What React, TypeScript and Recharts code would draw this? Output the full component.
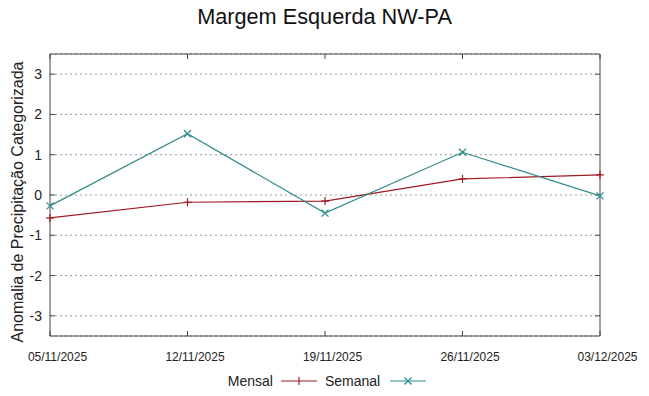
import { LineChart, Line, XAxis, YAxis, CartesianGrid, Legend, ReferenceLine } from "recharts"

const dates = ["05/11/2025", "12/11/2025", "19/11/2025", "26/11/2025", "03/12/2025"]
const mensal = [-0.57, -0.18, -0.15, 0.4, 0.5]
const semanal = [-0.27, 1.52, -0.45, 1.06, -0.02]
const yTicks = [-3, -2, -1, 0, 1, 2, 3]

const RED = "#a01a22"
const TEAL = "#2e8b8b"
const FONT = "'Liberation Sans', Arial, sans-serif"
const AXIS = "#444"

const Y_MIN = -3.5
const Y_MAX = 3.5
const X_MAX = dates.length - 1
// inward tick length in data units (about 5px each way)
const TICK_X = 0.036
const TICK_Y = 0.124

const data = dates.map((d, i) => ({ idx: i, date: d, mensal: mensal[i], semanal: semanal[i] }))

// gnuplot style point markers
const PlusDot = (props: any) => {
    const { cx, cy } = props
    if (cx == null || cy == null) return null
    return (
        <g stroke={RED} strokeWidth={1.2}>
            <line x1={cx - 4} y1={cy} x2={cx + 4} y2={cy} />
            <line x1={cx} y1={cy - 4} x2={cx} y2={cy + 4} />
        </g>
    )
}

const CrossDot = (props: any) => {
    const { cx, cy } = props
    if (cx == null || cy == null) return null
    return (
        <g stroke={TEAL} strokeWidth={1.2}>
            <line x1={cx - 3.5} y1={cy - 3.5} x2={cx + 3.5} y2={cy + 3.5} />
            <line x1={cx - 3.5} y1={cy + 3.5} x2={cx + 3.5} y2={cy - 3.5} />
        </g>
    )
}

const XTick = ({ x, payload }: any) => (
    <text x={x + 7.5} y={361} textAnchor="middle" fontFamily={FONT} fontSize={12} fill="#222">
        {dates[payload.value]}
    </text>
)

const YTick = ({ y, payload }: any) => (
    <text x={42} y={y + 5} textAnchor="end" fontFamily={FONT} fontSize={14} fill="#222">
        {payload.value}
    </text>
)

const NoTick = () => <g />

const LegendContent = () => (
    <div style={{ display: "flex", justifyContent: "center", alignItems: "center", height: 24, paddingTop: 3, paddingLeft: 5, fontFamily: FONT, fontSize: 14, color: "#222" }}>
        <span style={{ marginRight: 8 }}>Mensal</span>
        <svg width={36} height={10} style={{ marginRight: 8 }}>
            <line x1={0} y1={5} x2={36} y2={5} stroke={RED} strokeWidth={1.2} />
            <line x1={18} y1={1} x2={18} y2={9} stroke={RED} strokeWidth={1.2} />
        </svg>
        <span style={{ marginRight: 10 }}>Semanal</span>
        <svg width={36} height={10}>
            <line x1={0} y1={5} x2={36} y2={5} stroke={TEAL} strokeWidth={1.2} />
            <line x1={14.5} y1={1.5} x2={21.5} y2={8.5} stroke={TEAL} strokeWidth={1.2} />
            <line x1={14.5} y1={8.5} x2={21.5} y2={1.5} stroke={TEAL} strokeWidth={1.2} />
        </svg>
    </div>
)

const YLabel = () => (
    <text
        x={19}
        y={202}
        transform="rotate(-90 19 202)"
        textAnchor="middle"
        dominantBaseline="middle"
        fontFamily={FONT}
        fontSize={16}
        fill="#222"
    >
        Anomalia de Precipitação Categorizada
    </text>
)

const tickSeg = (key: string, a: { x: number; y: number }, b: { x: number; y: number }) => (
    <ReferenceLine key={key} xAxisId="bottom" yAxisId="left" segment={[a, b]} stroke={AXIS} strokeWidth={1} ifOverflow="visible" />
)

export default function App() {
    return (
        <div style={{ position: "relative", width: 649, height: 396, background: "#fff" }}>
            <style>{`body{margin:0}`}</style>
            <div
                style={{
                    position: "absolute",
                    top: 4,
                    left: 0,
                    width: 649,
                    textAlign: "center",
                    fontFamily: FONT,
                    fontSize: 21.7,
                    color: "#111",
                }}
            >
                Margem Esquerda NW-PA
            </div>
            <LineChart width={649} height={396} data={data} margin={{ top: 54, right: 49, bottom: 6, left: 0 }}>
                <CartesianGrid xAxisId="bottom" yAxisId="left" vertical={false} stroke="#999" strokeDasharray="2 3" />
                <XAxis
                    dataKey="idx"
                    type="number"
                    xAxisId="bottom"
                    domain={[0, X_MAX]}
                    ticks={data.map((d) => d.idx)}
                    height={30}
                    interval={0}
                    stroke={AXIS}
                    tickLine={false}
                    tick={<XTick />}
                />
                <XAxis dataKey="idx" type="number" xAxisId="top" orientation="top" mirror height={1} domain={[0, X_MAX]} stroke={AXIS} tickLine={false} tick={NoTick} />
                <YAxis
                    yAxisId="left"
                    width={50}
                    domain={[Y_MIN, Y_MAX]}
                    ticks={yTicks}
                    stroke={AXIS}
                    tickLine={false}
                    tick={<YTick />}
                    label={<YLabel />}
                />
                <YAxis yAxisId="right" orientation="right" mirror width={1} domain={[Y_MIN, Y_MAX]} ticks={yTicks} stroke={AXIS} tickLine={false} tick={NoTick} />
                {data.map((d) => tickSeg(`b${d.idx}`, { x: d.idx, y: Y_MIN }, { x: d.idx, y: Y_MIN + TICK_Y }))}
                {data.map((d) => tickSeg(`t${d.idx}`, { x: d.idx, y: Y_MAX }, { x: d.idx, y: Y_MAX - TICK_Y }))}
                {yTicks.map((v) => tickSeg(`l${v}`, { x: 0, y: v }, { x: TICK_X, y: v }))}
                {yTicks.map((v) => tickSeg(`r${v}`, { x: X_MAX, y: v }, { x: X_MAX - TICK_X, y: v }))}
                <Legend verticalAlign="bottom" height={24} wrapperStyle={{ left: 0, width: 649 }} content={<LegendContent />} />
                <Line
                    xAxisId="bottom"
                    yAxisId="left"
                    dataKey="mensal"
                    name="Mensal"
                    stroke={RED}
                    strokeWidth={1.2}
                    dot={<PlusDot />}
                    activeDot={false}
                    isAnimationActive={false}
                />
                <Line
                    xAxisId="bottom"
                    yAxisId="left"
                    dataKey="semanal"
                    name="Semanal"
                    stroke={TEAL}
                    strokeWidth={1.2}
                    dot={<CrossDot />}
                    activeDot={false}
                    isAnimationActive={false}
                />
            </LineChart>
        </div>
    )
}
